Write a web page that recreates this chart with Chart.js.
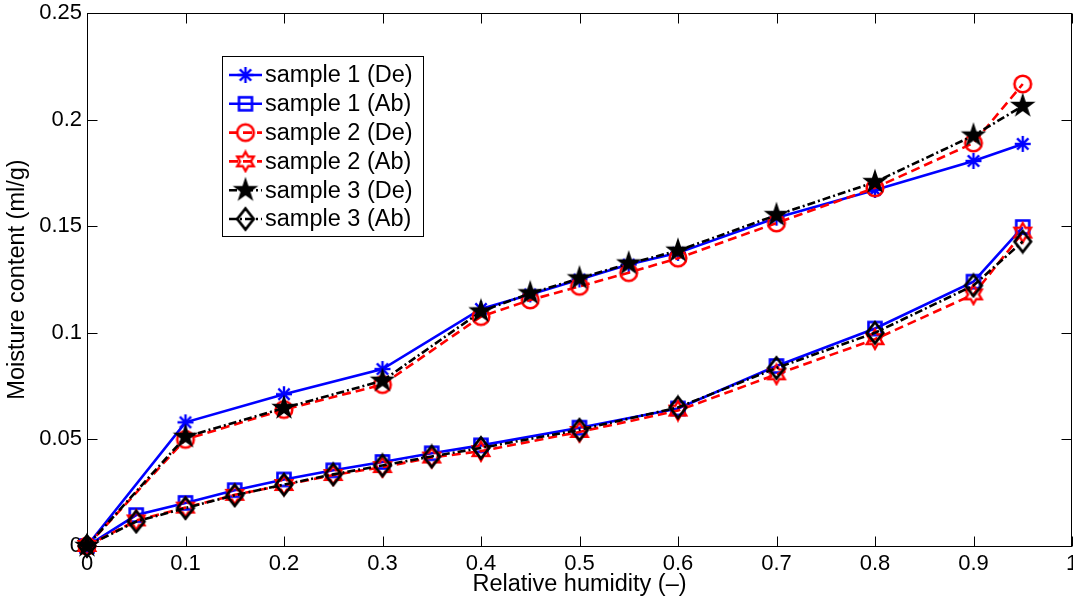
<!DOCTYPE html>
<html>
<head>
<meta charset="utf-8">
<title>Moisture content</title>
<script src="https://cdn.jsdelivr.net/npm/chart.js@4.4.0/dist/chart.umd.min.js"></script>
<style>
  html, body { margin: 0; padding: 0; background: #fff; }
  #wrap { width: 1073px; height: 603px; }
</style>
</head>
<body>
<div id="wrap"><canvas id="chartArea" width="1073" height="603"></canvas></div>
<script>
// relative humidity steps for desorption (De) and absorption (Ab)
const rhDe = [0, 0.1, 0.2, 0.3, 0.4, 0.45, 0.5, 0.55, 0.6, 0.7, 0.8, 0.9, 0.95];
const rhAb = [0, 0.05, 0.1, 0.15, 0.2, 0.25, 0.3, 0.35, 0.4, 0.5, 0.6, 0.7, 0.8, 0.9, 0.95];

// moisture content (ml/g)
const sample1De = [0, 0.0580, 0.0712, 0.0830, 0.1112, 0.1180, 0.1250, 0.1320, 0.1375, 0.1540, 0.1670, 0.1806, 0.1886];
const sample1Ab = [0, 0.0145, 0.0202, 0.0262, 0.0312, 0.0355, 0.0394, 0.0435, 0.0472, 0.0555, 0.0645, 0.0844, 0.1020, 0.1240, 0.1496];
const sample2De = [0, 0.0500, 0.0640, 0.0757, 0.1076, 0.1154, 0.1218, 0.1282, 0.1350, 0.1515, 0.1680, 0.1890, 0.2167];
const sample2Ab = [0, 0.0120, 0.0180, 0.0240, 0.0286, 0.0333, 0.0370, 0.0415, 0.0445, 0.0535, 0.0635, 0.0805, 0.0970, 0.1180, 0.1470];
const sample3De = [0, 0.0512, 0.0647, 0.0775, 0.1100, 0.1185, 0.1255, 0.1325, 0.1385, 0.1552, 0.1707, 0.1925, 0.2064];
const sample3Ab = [0, 0.0115, 0.0178, 0.0238, 0.0288, 0.0336, 0.0378, 0.0420, 0.0460, 0.0545, 0.0650, 0.0835, 0.1000, 0.1222, 0.1428];

const seriesLabels = ["sample 1 (De)", "sample 1 (Ab)", "sample 2 (De)", "sample 2 (Ab)", "sample 3 (De)", "sample 3 (Ab)"];
const xTicks = [0, 0.1, 0.2, 0.3, 0.4, 0.5, 0.6, 0.7, 0.8, 0.9, 1];
const yTicks = [0, 0.05, 0.1, 0.15, 0.2, 0.25];

(function(){
    const FONT = "'Liberation Sans', Arial, Helvetica, sans-serif";
    const BLUE = "#0000ff", RED = "#ff0000", BLACK = "#000000";

    // little canvases used as matlab-like markers
    function marker(size, draw) {
        const c = document.createElement("canvas");
        c.width = size; c.height = size;
        const g = c.getContext("2d");
        g.translate(size / 2, size / 2);
        draw(g);
        return c;
    }
    function star(g, n, R, r, rot) {
        g.beginPath();
        for (let k = 0; k < 2 * n; k++) {
            const a = rot + k * Math.PI / n;
            const rad = k % 2 === 0 ? R : r;
            const px = rad * Math.cos(a), py = rad * Math.sin(a);
            k === 0 ? g.moveTo(px, py) : g.lineTo(px, py);
        }
        g.closePath();
    }

    const asterisk = marker(22, g => {
        g.strokeStyle = BLUE; g.lineWidth = 2.4; g.lineCap = "butt";
        for (let k = 0; k < 4; k++) {
            const a = k * Math.PI / 4;
            g.beginPath();
            g.moveTo(-8 * Math.cos(a), -8 * Math.sin(a));
            g.lineTo(8 * Math.cos(a), 8 * Math.sin(a));
            g.stroke();
        }
    });
    const square = marker(22, g => {
        g.strokeStyle = BLUE; g.lineWidth = 2.6;
        g.strokeRect(-6.5, -6.5, 13, 13);
    });
    const circle = marker(24, g => {
        g.strokeStyle = RED; g.lineWidth = 2.6;
        g.beginPath(); g.arc(0, 0, 8.3, 0, Math.PI * 2); g.stroke();
    });
    const hexagram = marker(24, g => {
        g.strokeStyle = RED; g.lineWidth = 2.4; g.lineJoin = "miter";
        star(g, 6, 9.5, 9.5 / Math.sqrt(3), -Math.PI / 2);
        g.stroke();
    });
    const pentagram = marker(28, g => {
        g.fillStyle = BLACK; g.strokeStyle = BLACK; g.lineWidth = 1.5;
        star(g, 5, 11, 11 * 0.382, -Math.PI / 2);
        g.fill(); g.stroke();
    });
    const diamond = marker(26, g => {
        g.strokeStyle = BLACK; g.lineWidth = 2.8; g.lineJoin = "miter";
        g.beginPath();
        g.moveTo(0, -10.5); g.lineTo(8.2, 0); g.lineTo(0, 10.5); g.lineTo(-8.2, 0);
        g.closePath(); g.stroke();
    });

    const toPoints = (xs, ys) => xs.map((x, i) => ({x: x, y: ys[i]}));
    const series = [
        {x: rhDe, y: sample1De, color: BLUE, dash: [], pt: asterisk},
        {x: rhAb, y: sample1Ab, color: BLUE, dash: [], pt: square},
        {x: rhDe, y: sample2De, color: RED, dash: [9, 5], pt: circle},
        {x: rhAb, y: sample2Ab, color: RED, dash: [9, 5], pt: hexagram},
        {x: rhDe, y: sample3De, color: BLACK, dash: [8, 3, 2, 3], pt: pentagram},
        {x: rhAb, y: sample3Ab, color: BLACK, dash: [8, 3, 2, 3], pt: diamond}
    ];

    const datasets = series.map((s, i) => ({
        label: seriesLabels[i],
        data: toPoints(s.x, s.y),
        borderColor: s.color,
        backgroundColor: s.color,
        borderWidth: 2.6,
        borderDash: s.dash,
        pointStyle: s.pt,
        pointRadius: 10,
        pointBorderWidth: 0,
        tension: 0,
        fill: false,
        clip: false,
        order: series.length - i // later series on top, like matlab
    }));

    // box + inward ticks on all four sides
    const boxPlugin = {
        id: "matlabBox",
        beforeDatasetsDraw(chart) {
            const {ctx, chartArea: a, scales} = chart;
            const L = Math.round(a.left) + 0.5, R = Math.round(a.right) - 0.5;
            const T = Math.round(a.top) + 0.5, B = Math.round(a.bottom) + 0.5;
            ctx.save();
            ctx.strokeStyle = "#000"; ctx.lineWidth = 1;
            ctx.beginPath();
            scales.x.ticks.forEach(t => {
                const px = Math.round(scales.x.getPixelForValue(t.value)) + 0.5;
                ctx.moveTo(px, B); ctx.lineTo(px, B - 10);
                ctx.moveTo(px, T); ctx.lineTo(px, T + 10);
            });
            scales.y.ticks.forEach(t => {
                const py = Math.round(scales.y.getPixelForValue(t.value)) + 0.5;
                ctx.moveTo(L, py); ctx.lineTo(L + 10, py);
                ctx.moveTo(R, py); ctx.lineTo(R - 10, py);
            });
            ctx.stroke();
            ctx.strokeRect(L, T, R - L, B - T);
            ctx.restore();
        }
    };

    // legend box placed inside the axes like the original
    const legendPlugin = {
        id: "innerLegend",
        afterDraw(chart) {
            const ctx = chart.ctx;
            const bx = 222.5, by = 56.5, bw = 201, bh = 180;
            ctx.save();
            ctx.fillStyle = "#fff";
            ctx.fillRect(bx, by, bw, bh);
            ctx.strokeStyle = "#000"; ctx.lineWidth = 1;
            ctx.strokeRect(bx, by, bw, bh);
            chart.data.datasets.forEach((ds, i) => {
                const y = 75 + i * 28.8;
                ctx.strokeStyle = ds.borderColor;
                ctx.lineWidth = ds.borderWidth;
                ctx.setLineDash(ds.borderDash);
                ctx.beginPath(); ctx.moveTo(229, y); ctx.lineTo(262, y); ctx.stroke();
                ctx.setLineDash([]);
                const img = ds.pointStyle;
                ctx.drawImage(img, 245.5 - img.width / 2, y - img.height / 2);
                ctx.fillStyle = "#000";
                ctx.font = "23.5px " + FONT;
                ctx.textBaseline = "middle";
                ctx.textAlign = "left";
                ctx.fillText(ds.label, 265, y + 1);
            });
            ctx.restore();
        }
    };

    const tickFont = {family: FONT, size: 22};
    const titleFont = {family: FONT, size: 23.5};
    const chartCanvas = document.getElementById("chartArea");
    new Chart(chartCanvas, {
        type: "line",
        data: {datasets: datasets},
        plugins: [boxPlugin, legendPlugin],
        options: {
            responsive: false,
            animation: false,
            events: [],
            layout: {autoPadding: false, padding: {top: 13, right: 1, bottom: 0, left: 0}},
            plugins: {legend: {display: false}, tooltip: {enabled: false}},
            scales: {
                x: {
                    type: "linear", min: 0, max: 1,
                    afterBuildTicks: s => { s.ticks = xTicks.map(v => ({value: v})); },
                    afterFit: s => { s.height = 57; s.paddingLeft = 0; s.paddingRight = 0; },
                    grid: {display: false, drawTicks: false},
                    border: {display: false},
                    ticks: {color: "#000", font: tickFont, padding: 5, maxRotation: 0, autoSkip: false,
                            callback: v => String(v)},
                    title: {display: true, text: "Relative humidity (–)", color: "#000", font: titleFont,
                            padding: {top: 0, bottom: 4}}
                },
                y: {
                    type: "linear", min: 0, max: 0.25,
                    afterBuildTicks: s => { s.ticks = yTicks.map(v => ({value: v})); },
                    afterFit: s => { s.width = 87; s.paddingTop = 0; s.paddingBottom = 0; },
                    grid: {display: false, drawTicks: false},
                    border: {display: false},
                    ticks: {color: "#000", font: tickFont, padding: 5, autoSkip: false,
                            callback: v => String(v)},
                    title: {display: true, text: "Moisture content (ml/g)", color: "#000", font: titleFont,
                            padding: {top: 3, bottom: 0}}
                }
            }
        }
    });
})();
</script>
</body>
</html>
